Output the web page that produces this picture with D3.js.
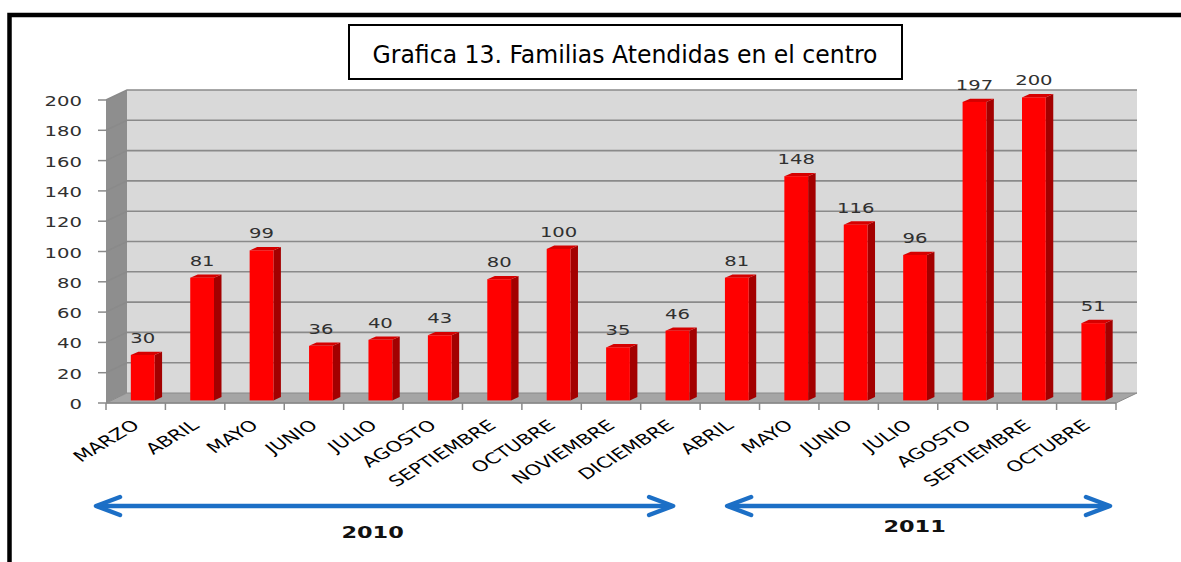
<!DOCTYPE html>
<html>
<head>
<meta charset="utf-8">
<script src="https://cdn.jsdelivr.net/npm/d3@7"></script>
<style>
  body { margin: 0; background: #fff; }
  text { font-family: "DejaVu Sans", Verdana, sans-serif; }
</style>
</head>
<body>
<svg id="chart" width="1181" height="562"></svg>
<script>
const categories = ["MARZO", "ABRIL", "MAYO", "JUNIO", "JULIO", "AGOSTO", "SEPTIEMBRE", "OCTUBRE", "NOVIEMBRE", "DICIEMBRE",
  "ABRIL", "MAYO", "JUNIO", "JULIO", "AGOSTO", "SEPTIEMBRE", "OCTUBRE"]
const values = [30, 81, 99, 36, 40, 43, 80, 100, 35, 46, 81, 148, 116, 96, 197, 200, 51]
const yTicks = [0, 20, 40, 60, 80, 100, 120, 140, 160, 180, 200]
const yearLabels = ["2010", "2011"]
const yearSpans = [[0, 9], [10, 16]]
const title = "Grafica 13. Familias Atendidas en el centro"

const svg = d3.select('#chart')
const SX = 1.4   // the picture is stretched sideways, so is its text

const x = d3.scaleBand()
  .domain(d3.range(categories.length))
  .range([106, 1116])
  .paddingInner(0.6)
  .paddingOuter(0.3)
const y = d3.scaleLinear().domain([0, 200]).range([403, 100])

const wall = {dx: 21, dy: -10}
const barOff = {dx: 7, dy: -2.6}
const barDepth = {dx: 7.5, dy: -3.3}
const edge = i => x(0) - x.step() * 0.3 + i * x.step()
const x0 = edge(0), x1 = edge(categories.length)

// outer frame
svg.append('rect')
  .attr('x', 9.5).attr('y', 15)
  .attr('width', 1400).attr('height', 800)
  .attr('fill', 'none').attr('stroke', '#000').attr('stroke-width', 4.5)

// walls
const g = svg.append('g')
g.append('polygon')
  .attr('points', [[x0, y(0)], [x0, y(200)], [x0 + wall.dx, y(200) + wall.dy], [x0 + wall.dx, y(0) + wall.dy]].join(' '))
  .attr('fill', '#8e8e8e')
g.append('rect')
  .attr('x', x0 + wall.dx).attr('y', y(200) + wall.dy)
  .attr('width', x1 - x0).attr('height', y(0) - y(200))
  .attr('fill', '#d9d9d9')
g.append('polygon')
  .attr('points', [[x0, y(0)], [x1, y(0)], [x1 + wall.dx, y(0) + wall.dy], [x0 + wall.dx, y(0) + wall.dy]].join(' '))
  .attr('fill', '#a5a5a5').attr('stroke', '#8a8a8a').attr('stroke-width', 1)

// gridlines
const grid = g.append('g').attr('stroke', '#8a8a8a').attr('stroke-width', 1.6).attr('fill', 'none')
grid.selectAll('.gl')
  .data(yTicks.filter(d => d > 0))
  .enter().append('polyline')
  .attr('points', d => [[x0, y(d)], [x0 + wall.dx, y(d) + wall.dy], [x1 + wall.dx, y(d) + wall.dy]].join(' '))

// y axis ticks + labels
const ya = svg.append('g')
ya.selectAll('line')
  .data(yTicks)
  .enter().append('line')
  .attr('x1', x0 - 8).attr('x2', x0)
  .attr('y1', d => y(d)).attr('y2', d => y(d))
  .attr('stroke', '#8a8a8a').attr('stroke-width', 1.5)
ya.selectAll('text')
  .data(yTicks)
  .enter().append('text')
  .attr('transform', d => `translate(${x0 - 24},${y(d) + 6}) scale(${SX},1)`)
  .attr('text-anchor', 'end')
  .attr('font-size', 14)
  .attr('fill', '#303030')
  .text(d => d)

// x axis
const xa = svg.append('g')
xa.append('line')
  .attr('x1', x0).attr('x2', x1).attr('y1', y(0)).attr('y2', y(0))
  .attr('stroke', '#8a8a8a').attr('stroke-width', 1.5)
xa.selectAll('.tk')
  .data(d3.range(categories.length + 1))
  .enter().append('line')
  .attr('x1', d => edge(d)).attr('x2', d => edge(d))
  .attr('y1', y(0)).attr('y2', y(0) + 7)
  .attr('stroke', '#8a8a8a').attr('stroke-width', 1.5)
xa.selectAll('text')
  .data(categories)
  .enter().append('text')
  .attr('transform', (d, i) => `translate(${x(i) + x.bandwidth() / 2 + 5},${y(0) + 24}) scale(${SX},1) rotate(-40)`)
  .attr('text-anchor', 'end')
  .attr('font-family', 'Lato, "Open Sans", sans-serif')
  .attr('font-size', 15)
  .attr('fill', '#000')
  .text(d => d)

// bars
const bw = x.bandwidth()
const bars = svg.append('g').selectAll('g')
  .data(values)
  .enter().append('g')
  .attr('transform', (d, i) => `translate(${x(i) + barOff.dx},${barOff.dy})`)

bars.append('polygon')
  .attr('points', d => [[bw, y(d)], [bw + barDepth.dx, y(d) + barDepth.dy], [bw + barDepth.dx, y(0) + barDepth.dy], [bw, y(0)]].join(' '))
  .attr('fill', '#a30000')
bars.append('polygon')
  .attr('points', d => [[0, y(d)], [barDepth.dx, y(d) + barDepth.dy], [bw + barDepth.dx, y(d) + barDepth.dy], [bw, y(d)]].join(' '))
  .attr('fill', '#d60000')
bars.append('rect')
  .attr('x', 0).attr('y', d => y(d))
  .attr('width', bw).attr('height', d => y(0) - y(d))
  .attr('fill', '#ff0000')
bars.append('text')
  .attr('transform', d => `translate(${bw / 2},${y(d) - 12}) scale(${SX},1)`)
  .attr('text-anchor', 'middle')
  .attr('font-size', 14)
  .attr('fill', '#303030')
  .text(d => d)

// title box
svg.append('rect')
  .attr('x', 349).attr('y', 25).attr('width', 553).attr('height', 54)
  .attr('fill', '#fff').attr('stroke', '#000').attr('stroke-width', 2)
svg.append('text')
  .attr('x', 625).attr('y', 63)
  .attr('text-anchor', 'middle')
  .attr('font-family', 'Lato, "Open Sans", sans-serif')
  .attr('font-size', 25)
  .attr('textLength', 505)
  .attr('lengthAdjust', 'spacingAndGlyphs')
  .attr('fill', '#000')
  .text(title)

// year arrows
const blue = '#1c6fc6'
const arrowY = 506
yearSpans.forEach((s, k) => {
  const a = edge(s[0]) + (s[0] === 0 ? -10 : 27)
  const b = edge(s[1] + 1) - (s[1] === categories.length - 1 ? 6 : 27)
  const ag = svg.append('g')
    .attr('stroke', blue).attr('stroke-width', 4.5).attr('fill', 'none')
    .attr('stroke-linecap', 'round').attr('stroke-linejoin', 'round')
  ag.append('line').attr('x1', a + 2).attr('x2', b - 2).attr('y1', arrowY).attr('y2', arrowY)
  ag.append('polyline').attr('points', [[a + 24, arrowY - 9], [a, arrowY], [a + 24, arrowY + 9]].join(' '))
  ag.append('polyline').attr('points', [[b - 24, arrowY - 9], [b, arrowY], [b - 24, arrowY + 9]].join(' '))
  svg.append('text')
    .attr('transform', `translate(${(a + b) / 2 + (k === 0 ? -12 : -4)},${arrowY + (k === 0 ? 32 : 26)}) scale(${SX},1)`)
    .attr('text-anchor', 'middle')
    .attr('font-size', 16)
    .attr('font-weight', 'bold')
    .attr('fill', '#111')
    .text(yearLabels[k])
})
</script>
</body>
</html>
